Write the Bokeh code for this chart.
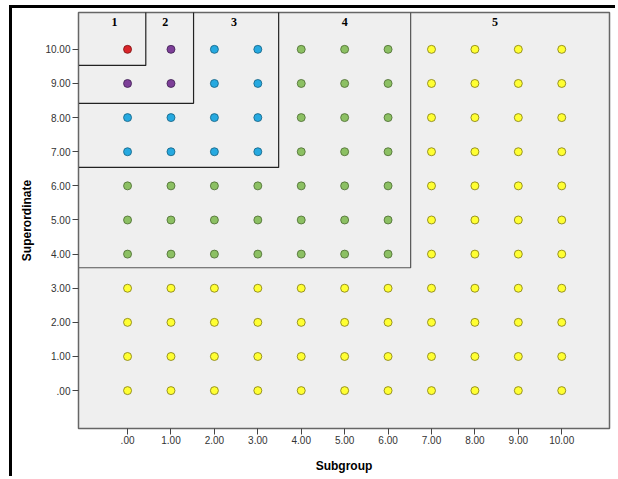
from bokeh.plotting import figure
from bokeh.models import FixedTicker, ColumnDataSource
from bokeh.core.properties import value
from bokeh.embed import file_html
from bokeh.resources import INLINE

# ---- data ----
subgroup_ticks = [0, 1, 2, 3, 4, 5, 6, 7, 8, 9, 10]
superordinate_ticks = [0, 1, 2, 3, 4, 5, 6, 7, 8, 9, 10]
x_tick_labels = [".00", "1.00", "2.00", "3.00", "4.00", "5.00", "6.00", "7.00", "8.00", "9.00", "10.00"]
y_tick_labels = [".00", "1.00", "2.00", "3.00", "4.00", "5.00", "6.00", "7.00", "8.00", "9.00", "10.00"]

# region boundaries: (vertical line x, horizontal line y) for regions 1-4
region_x_bounds = [0.42, 1.52, 3.48, 6.52]
region_y_bounds = [9.53, 8.42, 6.54, 3.6]
region_names = ["1", "2", "3", "4", "5"]
region_label_x = [-0.3, 0.87, 2.45, 5.0, 8.46]
region_label_y = [10.79, 10.79, 10.79, 10.79, 10.79]
region_colors = ["#d9252a", "#7d3f98", "#26a9e0", "#8cc063", "#ffff33"]
region_edges = ["#7a1010", "#3e1f50", "#136080", "#4a6a30", "#807a10"]


def region_of(x, y):
    for i, (bx, by) in enumerate(zip(region_x_bounds, region_y_bounds)):
        if x < bx and y > by:
            return i
    return 4


xs, ys, fills, edges = [], [], [], []
for x in subgroup_ticks:
    for y in superordinate_ticks:
        r = region_of(x, y)
        xs.append(x)
        ys.append(y)
        fills.append(region_colors[r])
        edges.append(region_edges[r])

x_start, x_end = -1.13, 11.1
y_start, y_end = -1.11, 11.08

p = figure(width=606, height=471, output_backend="svg", toolbar_location=None,
           x_range=(x_start, x_end), y_range=(y_start, y_end),
           min_border_left=66, min_border_right=9, min_border_top=4, min_border_bottom=51)
p.styles = {"border-left": "3px solid black", "border-top": "3px solid black",
            "margin-left": "9px", "margin-top": "5px"}
p.background_fill_color = "#efefef"
p.border_fill_color = "white"
p.outline_line_color = "#666666"
p.outline_line_width = 1.5
p.grid.visible = False

for ax in (p.xaxis, p.yaxis):
    ax.minor_tick_line_color = None
    ax.major_tick_in = 0
    ax.major_tick_out = 6
    ax.axis_line_color = "#666666"
    ax.major_tick_line_color = "#444444"
    ax.major_label_text_font = "Arial"
    ax.major_label_text_font_size = "10px"
    ax.major_label_text_color = "#333333"
    ax.axis_label_text_font = "Arial"
    ax.axis_label_text_font_size = "12px"
    ax.axis_label_text_font_style = "bold"
    ax.axis_label_text_color = "black"

p.xaxis.ticker = FixedTicker(ticks=subgroup_ticks)
p.yaxis.ticker = FixedTicker(ticks=superordinate_ticks)
p.xaxis.major_label_overrides = {t: l for t, l in zip(subgroup_ticks, x_tick_labels)}
p.yaxis.major_label_overrides = {t: l for t, l in zip(superordinate_ticks, y_tick_labels)}
p.xaxis.axis_label = "Subgroup"
p.yaxis.axis_label = "Superordinate"
p.xaxis.major_label_standoff = 1
p.yaxis.major_label_standoff = 2
p.xaxis.axis_label_standoff = 12
p.yaxis.axis_label_standoff = 8

# region boundary lines
for i, (bx, by) in enumerate(zip(region_x_bounds, region_y_bounds)):
    col = "#222222" if i < 3 else "#555555"
    p.line([x_start - 0.2, bx, bx], [by, by, y_end + 0.2], line_color=col, line_width=1.2)

src = ColumnDataSource(dict(x=xs, y=ys, fill=fills, edge=edges))
p.scatter("x", "y", source=src, size=8, fill_color="fill", line_color="edge", line_width=0.8)

p.text(region_label_x, region_label_y, text=region_names, text_font=value("Liberation Serif"),
       text_font_style="bold", text_font_size="12px", text_align="center", text_baseline="middle",
       text_color="black")

open("out.html", "w").write(file_html(p, INLINE))
